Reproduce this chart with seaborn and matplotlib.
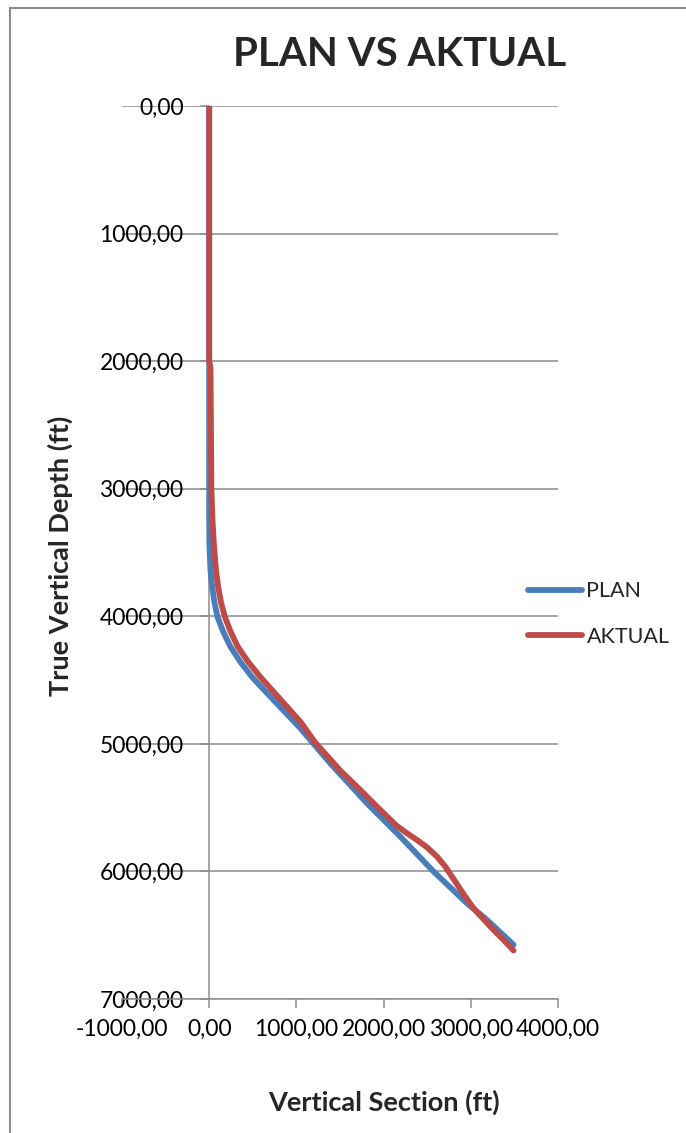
import matplotlib
matplotlib.use("Agg")
import matplotlib.pyplot as plt
from matplotlib.patches import Rectangle
from matplotlib.lines import Line2D
from matplotlib.ticker import FuncFormatter, MultipleLocator
import seaborn as sns
import pandas as pd

# Planned well trajectory: true vertical depth (ft) vs vertical section (ft)
plan_tvd = [0, 2000, 3000, 3250, 3450, 3640, 3770, 3890, 4005, 4120, 4240,
            4360, 4475, 4560, 4877, 5152, 5465, 5726, 6000, 6249, 6379, 6575]
plan_vs = [0, 0, 0, 0, 3, 15, 35, 60, 95, 160, 245,
           360, 490, 605, 1044, 1388, 1808, 2190, 2572, 2955, 3184, 3490]

# Actual drilled trajectory
aktual_tvd = [0, 2000, 2050, 3000, 3250, 3450, 3640, 3770, 3890, 4005, 4120,
              4240, 4360, 4475, 4825, 4990, 5209, 5361, 5439, 5543, 5643,
              5700, 5752, 5810, 5883, 5961, 6040, 6118, 6197, 6288, 6374,
              6458, 6536, 6620]
aktual_vs = [0, 0, 15, 25, 38, 55, 78, 103, 135, 180, 245,
             329, 450, 585, 1044, 1216, 1502, 1732, 1846, 1999, 2152,
             2267, 2381, 2496, 2611, 2706, 2783, 2859, 2936, 3031, 3146,
             3260, 3375, 3490]

series_names = ["PLAN", "AKTUAL"]
series_colors = ["#4A7EBB", "#BE4B48"]

df = pd.concat([
    pd.DataFrame({"vs": plan_vs, "tvd": plan_tvd, "series": series_names[0]}),
    pd.DataFrame({"vs": aktual_vs, "tvd": aktual_tvd, "series": series_names[1]}),
], ignore_index=True)

sns.set_style("white")
plt.rcParams["font.family"] = ["Lato", "DejaVu Sans"]

W, H = 686, 1133
fig = plt.figure(figsize=(W / 100, H / 100), dpi=100)
fig.patch.set_facecolor("white")

# outer chart frame
fig.add_artist(Rectangle((10 / W, -0.05), 1.2, 1 - 8 / H + 0.05,
                         transform=fig.transFigure, fill=False,
                         edgecolor="#8C8C8C", linewidth=1.5))

ax = fig.add_axes([122 / W, 1 - 999 / H, (558 - 122) / W, (999 - 106) / H])

sns.lineplot(data=df, x="vs", y="tvd", hue="series", hue_order=series_names,
             palette=series_colors, sort=False, estimator=None, linewidth=4.2,
             ax=ax, legend=False, solid_capstyle="round")
for ln in ax.lines:
    ln.set_solid_joinstyle("round")

ax.set_xlim(-1000, 4000)
ax.set_ylim(7000, 0)
ax.xaxis.set_major_locator(MultipleLocator(1000))
ax.yaxis.set_major_locator(MultipleLocator(1000))
fmt = FuncFormatter(lambda v, p: f"{v:.2f}".replace(".", ","))
ax.xaxis.set_major_formatter(fmt)
ax.yaxis.set_major_formatter(fmt)

ax.grid(axis="y", color="#8C8C8C", linewidth=1.1)
ax.grid(axis="x", visible=False)
ax.set_axisbelow(True)

for s in ["top", "right"]:
    ax.spines[s].set_visible(False)
ax.spines["left"].set_position(("data", 0))
ax.spines["left"].set_color("#8C8C8C")
ax.spines["bottom"].set_color("#8C8C8C")
ax.spines["left"].set_linewidth(1.1)
ax.spines["bottom"].set_linewidth(1.1)
ax.spines["left"].set_zorder(0.5)

ax.tick_params(axis="y", direction="out", length=6.5, width=1.1, color="#8C8C8C",
               pad=12, labelsize=16.5, labelcolor="black", left=True)
ax.tick_params(axis="x", direction="out", length=6.5, width=1.1, color="#8C8C8C",
               pad=8, labelsize=16.5, labelcolor="black", bottom=True)
ax.xaxis.get_major_ticks()[0].tick1line.set_visible(False)
ax.set_xlabel("")
ax.set_ylabel("")

fig.text(400 / W, 1 - 55 / H, "PLAN VS AKTUAL", ha="center", va="center",
         fontsize=29, fontweight="bold")
fig.text(384 / W, 1 - 1102 / H, "Vertical Section (ft)", ha="center", va="center",
         fontsize=19.5, fontweight="bold")
fig.text(60 / W, 1 - 556 / H, "True Vertical Depth (ft)", ha="center", va="center",
         rotation=90, fontsize=19.5, fontweight="bold")

handles = [Line2D([], [], color=c, linewidth=4.2, solid_capstyle="round")
           for c in series_colors]
fig.legend(handles, series_names, loc="center left",
           bbox_to_anchor=(509 / W, 1 - 614 / H), frameon=False,
           fontsize=15.5, handlelength=2.5, handletextpad=0.2, labelspacing=1.2)

fig.savefig("out.png", dpi=100, facecolor="white")
